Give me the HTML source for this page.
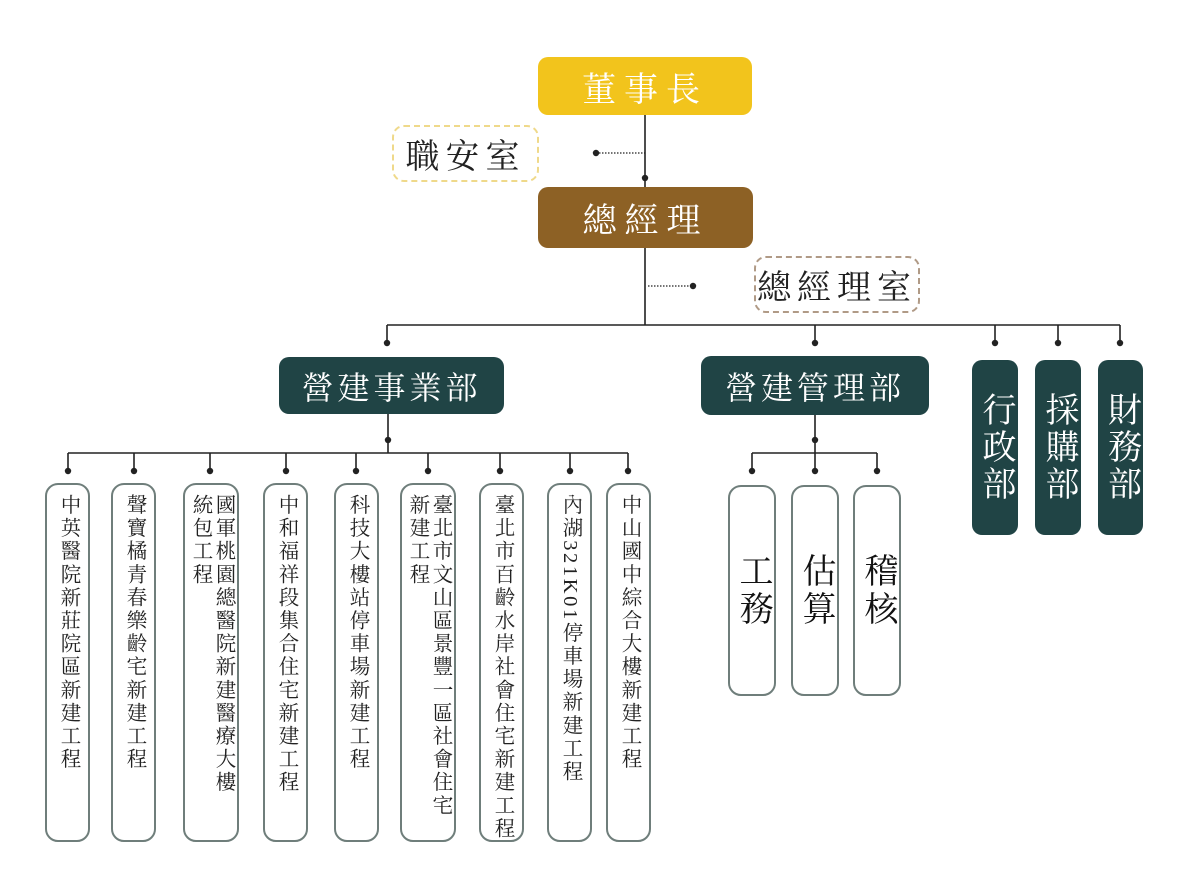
<!DOCTYPE html>
<html><head><meta charset="utf-8">
<style>
html,body{margin:0;padding:0;background:#fff;}
body{width:1200px;height:896px;position:relative;overflow:hidden;font-family:"Liberation Serif","Noto Serif CJK TC","Noto Serif CJK SC",serif;}
.b{position:absolute;box-sizing:border-box;display:flex;align-items:center;justify-content:center;}
.top{border-radius:10px;color:#fff;font-size:34px;letter-spacing:8px;}
.dash{border-radius:12px;font-size:34px;letter-spacing:6px;color:#222;background:#fff;}
.dep{background:#204445;color:#fff;border-radius:10px;font-size:32px;letter-spacing:4px;}
.vd{background:#204445;color:#fff;border-radius:10px;font-size:34px;writing-mode:vertical-rl;line-height:1;letter-spacing:3px;}
.p{position:absolute;box-sizing:border-box;border:2px solid #6f7e7b;border-radius:13px;background:#fff;}
.p span{position:absolute;top:9px;left:0;right:0;margin:0 auto;writing-mode:vertical-rl;font-size:20.5px;line-height:23px;letter-spacing:2.6px;color:#222;white-space:nowrap;width:max-content;}
.m{position:absolute;box-sizing:border-box;border:2px solid #6f7e7b;border-radius:13px;background:#fff;writing-mode:vertical-rl;font-size:34px;line-height:1;letter-spacing:4px;color:#111;display:flex;align-items:center;justify-content:center;}
</style></head><body>
<svg width="1200" height="896" style="position:absolute;left:0;top:0">
<g stroke="#222" stroke-width="1.6" fill="none">
<line x1="645" y1="115" x2="645" y2="187"/>
<line x1="645" y1="248" x2="645" y2="325"/>
<line x1="387" y1="325" x2="1120" y2="325"/>
<line x1="387" y1="325" x2="387" y2="343"/>
<line x1="815" y1="325" x2="815" y2="343"/>
<line x1="995" y1="325" x2="995" y2="343"/>
<line x1="1058" y1="325" x2="1058" y2="343"/>
<line x1="1120" y1="325" x2="1120" y2="343"/>
<line x1="388" y1="414" x2="388" y2="440"/>
<line x1="68" y1="453" x2="628" y2="453"/>
<line x1="388" y1="440" x2="388" y2="453"/>
<line x1="68" y1="453" x2="68" y2="471"/><line x1="134" y1="453" x2="134" y2="471"/><line x1="210" y1="453" x2="210" y2="471"/><line x1="286" y1="453" x2="286" y2="471"/><line x1="356" y1="453" x2="356" y2="471"/><line x1="428" y1="453" x2="428" y2="471"/><line x1="500" y1="453" x2="500" y2="471"/><line x1="570" y1="453" x2="570" y2="471"/><line x1="628" y1="453" x2="628" y2="471"/>
<line x1="815" y1="415" x2="815" y2="471"/>
<line x1="752" y1="453" x2="877" y2="453"/>
<line x1="752" y1="453" x2="752" y2="471"/><line x1="877" y1="453" x2="877" y2="471"/>
</g>
<g stroke="#222" stroke-width="1.2" stroke-dasharray="1.5,1.5">
<line x1="596" y1="153" x2="645" y2="153"/>
<line x1="648" y1="286" x2="693" y2="286"/>
</g>
<g fill="#222">
<circle cx="645" cy="178" r="3.2"/><circle cx="596" cy="153" r="3.2"/><circle cx="693" cy="286" r="3.2"/>
<circle cx="387" cy="343" r="3.2"/><circle cx="815" cy="343" r="3.2"/><circle cx="995" cy="343" r="3.2"/><circle cx="1058" cy="343" r="3.2"/><circle cx="1120" cy="343" r="3.2"/>
<circle cx="388" cy="440" r="3.2"/><circle cx="815" cy="440" r="3.2"/>
<circle cx="68" cy="471" r="3.2"/><circle cx="134" cy="471" r="3.2"/><circle cx="210" cy="471" r="3.2"/><circle cx="286" cy="471" r="3.2"/><circle cx="356" cy="471" r="3.2"/><circle cx="428" cy="471" r="3.2"/><circle cx="500" cy="471" r="3.2"/><circle cx="570" cy="471" r="3.2"/><circle cx="628" cy="471" r="3.2"/>
<circle cx="752" cy="471" r="3.2"/><circle cx="815" cy="471" r="3.2"/><circle cx="877" cy="471" r="3.2"/>
</g>
</svg>

<div class="b top" style="left:538px;top:57px;width:214px;height:58px;background:#f2c41c;">董事長</div>
<div class="b dash" style="left:392px;top:125px;width:147px;height:57px;border:2px dashed #efd98a;">職安室</div>
<div class="b top" style="left:538px;top:187px;width:215px;height:61px;background:#8d6125;">總經理</div>
<div class="b dash" style="left:754px;top:256px;width:166px;height:57px;border:2px dashed #b09a86;">總經理室</div>

<div class="b dep" style="left:279px;top:357px;width:225px;height:57px;">營建事業部</div>
<div class="b dep" style="left:701px;top:356px;width:228px;height:59px;">營建管理部</div>

<div class="b vd" style="left:972px;top:360px;width:46px;height:175px;">行政部</div>
<div class="b vd" style="left:1035px;top:360px;width:46px;height:175px;">採購部</div>
<div class="b vd" style="left:1098px;top:360px;width:45px;height:175px;">財務部</div>

<div class="p" style="left:45px;top:483px;width:45px;height:359px;"><span>中英醫院新莊院區新建工程</span></div>
<div class="p" style="left:111px;top:483px;width:45px;height:359px;"><span>聲寶橘青春樂齡宅新建工程</span></div>
<div class="p" style="left:183px;top:483px;width:56px;height:359px;"><span>國軍桃園總醫院新建醫療大樓<br>統包工程</span></div>
<div class="p" style="left:263px;top:483px;width:45px;height:359px;"><span>中和福祥段集合住宅新建工程</span></div>
<div class="p" style="left:334px;top:483px;width:45px;height:359px;"><span>科技大樓站停車場新建工程</span></div>
<div class="p" style="left:400px;top:483px;width:56px;height:359px;"><span>臺北市文山區景豐一區社會住宅<br>新建工程</span></div>
<div class="p" style="left:479px;top:483px;width:45px;height:359px;"><span>臺北市百齡水岸社會住宅新建工程</span></div>
<div class="p" style="left:547px;top:483px;width:45px;height:359px;"><span>內湖321K01停車場新建工程</span></div>
<div class="p" style="left:606px;top:483px;width:45px;height:359px;"><span>中山國中綜合大樓新建工程</span></div>

<div class="m" style="left:728px;top:485px;width:48px;height:211px;">工務</div>
<div class="m" style="left:791px;top:485px;width:48px;height:211px;">估算</div>
<div class="m" style="left:853px;top:485px;width:48px;height:211px;">稽核</div>
</body></html>
